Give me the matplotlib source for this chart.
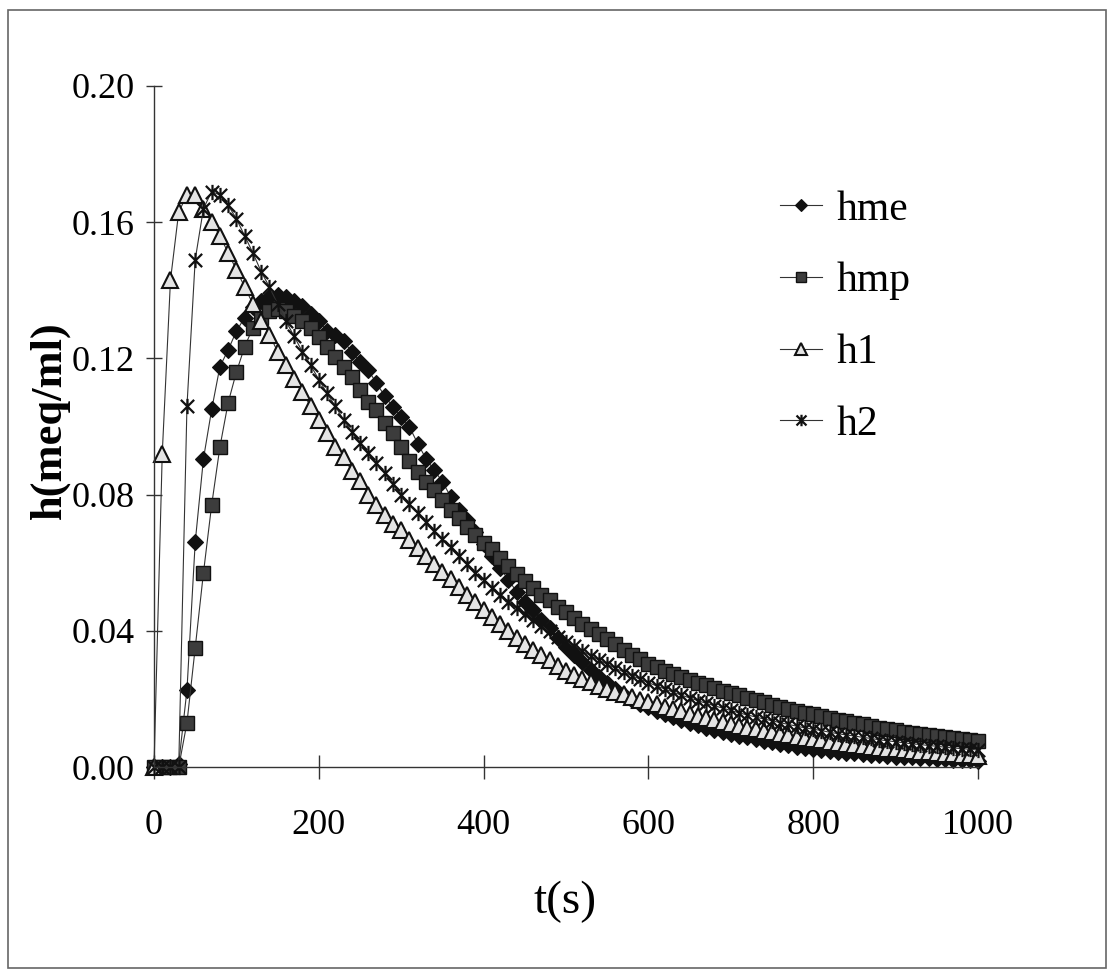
import matplotlib
matplotlib.use('Agg')
import matplotlib.pyplot as plt
from matplotlib.path import Path
from matplotlib.patches import Rectangle

# time grid (s)
t = list(range(0, 1001, 10))

hme = [0.000, 0.000, 0.000, 0.001, 0.0226, 0.066, 0.0905, 0.105, 0.1176, 0.1225,
       0.128, 0.132, 0.135, 0.137, 0.138, 0.1385, 0.138, 0.137, 0.1355, 0.133,
       0.131, 0.128, 0.127, 0.125, 0.122, 0.119, 0.1166, 0.1127, 0.109, 0.1058,
       0.1028, 0.0999, 0.095, 0.0906, 0.0872, 0.0838, 0.0794, 0.0755, 0.0725, 0.069,
       0.0655, 0.062, 0.0585, 0.055, 0.0515, 0.0486, 0.0461, 0.0432, 0.0407, 0.0378,
       0.0353, 0.033, 0.0307, 0.0285, 0.0265, 0.0246, 0.0228, 0.0212, 0.0198, 0.0186,
       0.0175, 0.0165, 0.0155, 0.0146, 0.0138, 0.013, 0.0123, 0.0116, 0.011, 0.0104,
       0.0098, 0.0092, 0.0087, 0.0082, 0.0077, 0.0072, 0.0068, 0.0064, 0.006, 0.0056,
       0.0053, 0.005, 0.0047, 0.0044, 0.0042, 0.004, 0.0038, 0.0036, 0.0034, 0.0032,
       0.003, 0.0029, 0.0028, 0.0026, 0.0025, 0.0024, 0.0023, 0.0022, 0.0021, 0.002,
       0.0019]

hmp = [0.0, 0.0, 0.0, 0.0, 0.013, 0.035, 0.057, 0.077, 0.094, 0.107,
       0.116, 0.1234, 0.129, 0.132, 0.134, 0.1345, 0.134, 0.1325, 0.131, 0.129,
       0.1264, 0.1234, 0.1205, 0.1176, 0.1146, 0.1107, 0.1073, 0.1048, 0.1009, 0.098,
       0.094, 0.090, 0.0867, 0.0838, 0.0813, 0.0784, 0.0755, 0.073, 0.0705, 0.068,
       0.0658, 0.064, 0.0615, 0.059, 0.0568, 0.0546, 0.0525, 0.0505, 0.049, 0.047,
       0.0455, 0.0438, 0.042, 0.0405, 0.039, 0.0375, 0.036, 0.0345, 0.033, 0.0316,
       0.0303, 0.0293, 0.0283, 0.0274, 0.0265, 0.0256, 0.0248, 0.024, 0.0232, 0.0224,
       0.0217, 0.021, 0.0203, 0.0196, 0.019, 0.0183, 0.0177, 0.0171, 0.0165, 0.016,
       0.0155, 0.0149, 0.0144, 0.0139, 0.0134, 0.0129, 0.0125, 0.012, 0.0116, 0.0112,
       0.0108, 0.0104, 0.0100, 0.0097, 0.0093, 0.009, 0.0087, 0.0084, 0.0081, 0.0078,
       0.0075]

h1 = [0.0, 0.092, 0.143, 0.163, 0.168, 0.168, 0.164, 0.160, 0.156, 0.151,
      0.146, 0.141, 0.136, 0.131, 0.127, 0.122, 0.118, 0.114, 0.110, 0.106,
      0.102, 0.098, 0.094, 0.091, 0.087, 0.084, 0.080, 0.077, 0.074, 0.0715,
      0.0695, 0.0668, 0.0643, 0.062, 0.0595, 0.0572, 0.0552, 0.053, 0.0505, 0.0485,
      0.0462, 0.0441, 0.0421, 0.040, 0.0378, 0.0362, 0.0345, 0.0328, 0.0313, 0.0296,
      0.0282, 0.027, 0.0259, 0.0249, 0.0239, 0.023, 0.0221, 0.0213, 0.0205, 0.0198,
      0.0191, 0.0184, 0.0177, 0.017, 0.0163, 0.0156, 0.015, 0.0144, 0.0138, 0.0132,
      0.0126, 0.0121, 0.0116, 0.0111, 0.0106, 0.0102, 0.0097, 0.0093, 0.0089, 0.0085,
      0.0081, 0.0078, 0.0074, 0.0071, 0.0068, 0.0065, 0.0062, 0.0059, 0.0057, 0.0054,
      0.0052, 0.0049, 0.0047, 0.0045, 0.0043, 0.0041, 0.0039, 0.0037, 0.0036, 0.0034,
      0.0033]

h2 = [0.0, 0.0, 0.0, 0.0, 0.106, 0.149, 0.164, 0.169, 0.168, 0.165,
      0.161, 0.156, 0.151, 0.1455, 0.141, 0.136, 0.131, 0.1265, 0.122, 0.118,
      0.1138, 0.1097, 0.106, 0.102, 0.0985, 0.0952, 0.0921, 0.0892, 0.0863, 0.0832,
      0.080, 0.0772, 0.0745, 0.072, 0.0694, 0.067, 0.0645, 0.062, 0.0595, 0.057,
      0.0548, 0.0527, 0.0506, 0.0486, 0.0467, 0.0449, 0.0432, 0.0415, 0.0399, 0.0383,
      0.0368, 0.0354, 0.034, 0.0327, 0.0314, 0.0302, 0.029, 0.0279, 0.0268, 0.0258,
      0.0248, 0.0238, 0.0229, 0.022, 0.0211, 0.0203, 0.0195, 0.0187, 0.018, 0.0173,
      0.0166, 0.0159, 0.0153, 0.0147, 0.0141, 0.0136, 0.013, 0.0125, 0.012, 0.0115,
      0.0111, 0.0107, 0.0102, 0.0098, 0.0094, 0.0091, 0.0087, 0.0084, 0.008, 0.0077,
      0.0074, 0.0071, 0.0068, 0.0066, 0.0063, 0.0061, 0.0058, 0.0056, 0.0054, 0.0052,
      0.005]

series_names = ['hme', 'hmp', 'h1', 'h2']
x_ticks = [0, 200, 400, 600, 800, 1000]
y_ticks = [0.00, 0.04, 0.08, 0.12, 0.16, 0.20]

plt.rcParams['font.family'] = ['Liberation Serif', 'DejaVu Serif']

W, H = 1112, 972
fig = plt.figure(figsize=(W / 100, H / 100), dpi=100)
fig.patch.set_facecolor('white')

# outer frame of the scanned figure
fig.patches.append(Rectangle((8 / W, 4 / H), (1106 - 8) / W, (962 - 4) / H,
                             transform=fig.transFigure, fill=False,
                             edgecolor='#666666', linewidth=1.2))

ax = fig.add_axes([154 / W, 1 - 767 / H, (978 - 154) / W, (767 - 86) / H])
ax.set_xlim(0, 1000)
ax.set_ylim(0, 0.20)

star = Path([(-1, -1), (1, 1), (-1, 1), (1, -1), (0, -1.15), (0, 1.15)],
            [Path.MOVETO, Path.LINETO, Path.MOVETO, Path.LINETO, Path.MOVETO, Path.LINETO])

line_kw = dict(color='#333333', lw=0.8, clip_on=False)
l1, = ax.plot(t, hme, marker='D', ms=8, mfc='#111111', mec='#111111', mew=0.8,
              label=series_names[0], **line_kw)
l2, = ax.plot(t, hmp, marker='s', ms=9.5, mfc='#3c3c3c', mec='#111111', mew=1.0,
              label=series_names[1], **line_kw)
l3, = ax.plot(t, h1, marker='^', ms=11, mfc='#e4e4e4', mec='#111111', mew=1.5,
              label=series_names[2], **line_kw)
l4, = ax.plot(t, h2, marker=star, ms=11, mfc='none', mec='#111111', mew=1.6,
              label=series_names[3], **line_kw)

for s in ['top', 'right']:
    ax.spines[s].set_visible(False)
for s in ['left', 'bottom']:
    ax.spines[s].set_color('#333333')
    ax.spines[s].set_linewidth(1.0)

ax.set_xticks(x_ticks)
ax.set_xticklabels([str(v) for v in x_ticks])
ax.set_yticks(y_ticks)
ax.set_yticklabels(['%.2f' % v for v in y_ticks])
ax.tick_params(axis='x', direction='inout', length=17, width=1, pad=22,
               labelsize=26, color='#333333')
ax.tick_params(axis='y', direction='inout', length=12, width=1, pad=8,
               labelsize=26, color='#333333')

ax.set_ylabel('h(meq/ml)', fontsize=32, fontweight='bold')
ax.yaxis.set_label_coords((50 - 154) / (978 - 154), (767 - 420) / (767 - 86))
ax.set_xlabel('t(s)', fontsize=34)
ax.xaxis.set_label_coords((565 - 154) / (978 - 154), -(902 - 767) / (767 - 86))
ax.xaxis.label.set_va('center')
ax.yaxis.label.set_va('center')

leg = ax.legend(handles=[l1, l2, l3, l4], loc='upper left',
                bbox_to_anchor=(780 / W, 1 - 190 / H),
                bbox_transform=fig.transFigure, frameon=False, fontsize=30,
                handlelength=1.0, handletextpad=0.35, labelspacing=0.8,
                borderpad=0, borderaxespad=0, markerscale=0.75)

fig.savefig('out.png', dpi=100, facecolor='white')
